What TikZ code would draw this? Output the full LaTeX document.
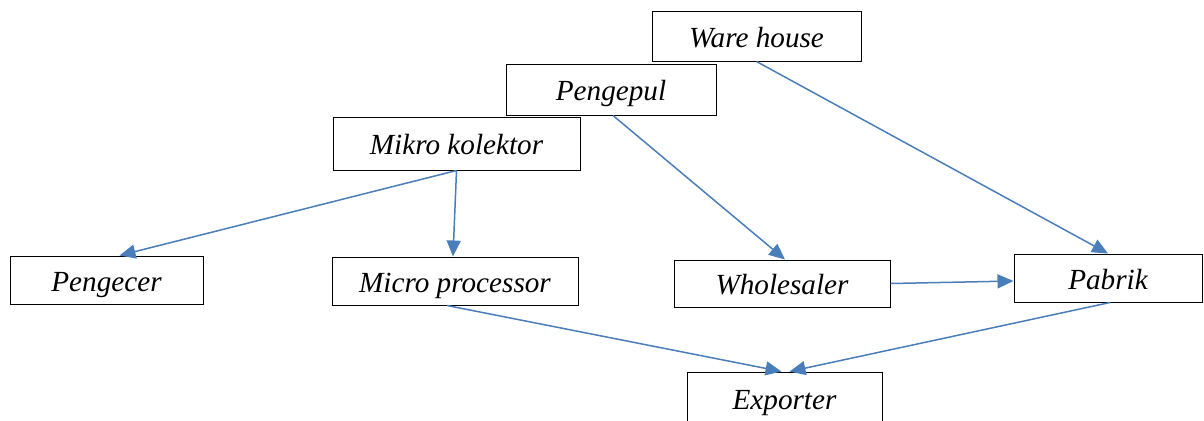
\documentclass[tikz,border=0pt]{standalone}
\usepackage{fontspec}
\setmainfont{Liberation Serif}
\usetikzlibrary{arrows.meta}
\definecolor{arrblue}{HTML}{4A7EBB}

\begin{document}
\begin{tikzpicture}[x=0.5pt,y=-0.5pt,>={Triangle[length=8pt,width=7pt]},
 box/.style={draw,line width=0.5pt,inner sep=0pt,text height=12pt,text depth=1pt,
  font=\fontsize{14.6}{17}\selectfont\itshape},
 arr/.style={->,draw=arrblue,fill=arrblue,line width=0.75pt}]
 \useasboundingbox (0,0) rectangle (1204,420);
 \node[box,minimum width=104.5pt,minimum height=25pt] (wh) at (756.5,36) {Ware house};
 \node[box,minimum width=105pt,minimum height=25.5pt,fill=white] (pg) at (611,89.5) {Pengepul};
 \node[box,minimum width=123.5pt,minimum height=26.5pt,fill=white] (mk) at (456.5,143.5) {Mikro kolektor};
 \node[box,minimum width=96.5pt,minimum height=24pt] (pc) at (106.5,280) {Pengecer};
 \node[box,minimum width=123pt,minimum height=24pt] (mp) at (455,281) {Micro processor};
 \node[box,minimum width=108pt,minimum height=23.5pt] (ws) at (782,283.5) {Wholesaler};
 \node[box,minimum width=94pt,minimum height=24pt] (pb) at (1108,278) {Pabrik};
 \node[box,minimum width=97.5pt,minimum height=26pt] (ex) at (784.5,398) {Exporter};
 \draw[arr] (mk.south) -- ([xshift=6.5pt]pc.north);
 \draw[arr] (mk.south) -- ([xshift=-1pt]mp.north);
 \draw[arr] ([xshift=1pt]pg.south) -- ([xshift=1.5pt]ws.north);
 \draw[arr] (wh.south) -- (pb.north);
 \draw[arr] (ws.east) -- ([yshift=-1.5pt]pb.west);
 \draw[arr] ([xshift=-4pt]mp.south) -- ([xshift=-1.5pt]ex.north);
 \draw[arr] ([xshift=1pt]pb.south) -- ([xshift=2.5pt]ex.north);
\end{tikzpicture}
\end{document}
